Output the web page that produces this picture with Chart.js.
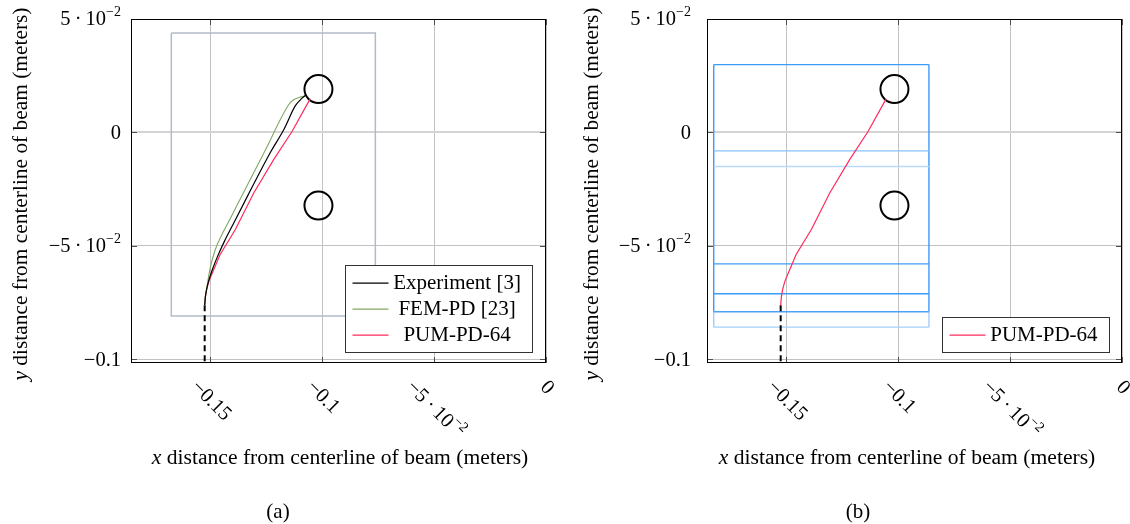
<!DOCTYPE html>
<html><head><meta charset="utf-8">
<script src="https://cdn.jsdelivr.net/npm/chart.js@4/dist/chart.umd.min.js"></script>
<style>
html,body{margin:0;padding:0;background:#fff;overflow:hidden;}
#wrap{position:relative;width:1130px;height:524px;overflow:hidden;background:#fff;}
canvas{position:absolute;top:0;}
</style></head><body>
<div id="wrap">
<canvas id="ca" width="565" height="524" style="left:0"></canvas>
<canvas id="cb" width="565" height="524" style="left:565px"></canvas>
</div>
<script>
// ---------- data ----------
const xTickValues=[-0.15,-0.1,-0.05,0];
const yTickValues=[-0.1,-0.05,0,0.05];
const xTickLabels=['\u22120.15','\u22120.1','\u22125\u2009\u00b7\u200910^\u22122','0'];
const yTickLabels=['\u22120.1','\u22125\u2009\u00b7\u200910^\u22122','0','5\u2009\u00b7\u200910^\u22122'];
const xMin=-0.1853, xMax=0, yMin=-0.1016, yMax=0.05;

const expX=[-0.1524,-0.1521,-0.1515,-0.1505,-0.1490,-0.1466,-0.1436,-0.1400,-0.1330,-0.1229,-0.1171,-0.1119,-0.1089,-0.1074];
const expY=[-0.0762,-0.0725,-0.0690,-0.0650,-0.0605,-0.0545,-0.0480,-0.0410,-0.0275,-0.0085,0.0012,0.0118,0.0151,0.0164];
const femX=[-0.1524,-0.1521,-0.1515,-0.1509,-0.1500,-0.1478,-0.1447,-0.1410,-0.1343,-0.1254,-0.1149,-0.1127,-0.1100,-0.1075];
const femY=[-0.0762,-0.0725,-0.0690,-0.0650,-0.0600,-0.0520,-0.0450,-0.0380,-0.0250,-0.0080,0.0122,0.0144,0.0155,0.0161];
const pumX=[-0.1524,-0.1521,-0.1515,-0.1505,-0.1488,-0.1455,-0.1387,-0.1305,-0.1216,-0.1134,-0.1060,-0.1052];
const pumY=[-0.0762,-0.0725,-0.0690,-0.0655,-0.0615,-0.0538,-0.0428,-0.0267,-0.0120,0.0004,0.0136,0.0148];
const notchX=[-0.1524,-0.1524];
const notchY=[-0.0762,-0.1016];
const holeX=[-0.1016,-0.1016];
const holeY=[0.0191,-0.0322];
const boxX=[-0.1673,-0.0762,-0.0762,-0.1673,-0.1673];
const boxY=[0.0438,0.0438,-0.0809,-0.0809,0.0438];
const patchX=[-0.1823,-0.0862];
const patchLineY=[0.0299,-0.0081,-0.0150,-0.0579,-0.0711,-0.0790,-0.0858];
const patchEdgeY=[0.0299,-0.0790,-0.0858];
const legendA=['Experiment [3]','FEM-PD [23]','PUM-PD-64'];
const legendB=['PUM-PD-64'];

// ---------- styles ----------
const FONT="'Liberation Serif','Times New Roman',serif";
const C_EXP='#000000', C_FEM='#7fa862', C_PUM='#ff2a5c', C_BOX='#b2bcc7';
const patchLineColors=['#3d9cf6','#86c0f7','#b7daf9','#3d9cf6','#3d9cf6','#4aa2f6','#a3cff8'];
const patchEdgeColors=['#3d9cf6','#a3cff8'];

const pts=(xs,ys)=>xs.map((x,i)=>({x:x,y:ys[i]}));

function parts(l){const i=l.indexOf('^');return i<0?[[l,false]]:[[l.slice(0,i),false],[l.slice(i+1),true]];}
function fnt(size,sup){return (sup?Math.round(size*0.7):size)+'px '+FONT;}
function measure(ctx,l,size){let w=0;parts(l).forEach(([t,s])=>{ctx.font=fnt(size,s);w+=ctx.measureText(t).width;});return w;}
function drawLbl(ctx,l,x,y,size){
  let cx=x;ctx.textBaseline='middle';ctx.textAlign='left';ctx.fillStyle='#000';
  parts(l).forEach(([t,s])=>{ctx.font=fnt(size,s);ctx.fillText(t,cx,s?y-size*0.36:y);cx+=ctx.measureText(t).width;});
}
function drawTitle(ctx,it,rest,cx,cy,rot,size){
  ctx.save();ctx.translate(cx,cy);ctx.rotate(rot);
  ctx.font='italic '+size+'px '+FONT;const w1=ctx.measureText(it).width;
  ctx.font=size+'px '+FONT;const w2=ctx.measureText(rest).width;
  const x0=-(w1+w2)/2;ctx.textBaseline='middle';ctx.textAlign='left';ctx.fillStyle='#000';
  ctx.font='italic '+size+'px '+FONT;ctx.fillText(it,x0,0);
  ctx.font=size+'px '+FONT;ctx.fillText(rest,x0+w1,0);
  ctx.restore();
}

function decor(cfg){
  return {id:'decor',afterDraw(chart){
    const ctx=chart.ctx,a=chart.chartArea,xs=chart.scales.x,ys=chart.scales.y;
    ctx.save();
    // tick marks
    ctx.strokeStyle='#505050';ctx.lineWidth=1;ctx.beginPath();
    xTickValues.forEach(v=>{const p=Math.round(xs.getPixelForValue(v))+0.5;
      ctx.moveTo(p,a.bottom);ctx.lineTo(p,a.bottom-6);ctx.moveTo(p,a.top);ctx.lineTo(p,a.top+6);});
    yTickValues.forEach(v=>{const p=Math.round(ys.getPixelForValue(v))+0.5;
      ctx.moveTo(a.left,p);ctx.lineTo(a.left+6,p);ctx.moveTo(a.right,p);ctx.lineTo(a.right-6,p);});
    ctx.stroke();
    // frame
    ctx.strokeStyle='#000';ctx.lineWidth=1;
    ctx.strokeRect(a.left+0.5,a.top+0.5,a.right-a.left-1,a.bottom-a.top-1);
    // y tick labels
    const TS=20.5;
    yTickValues.forEach((v,i)=>{const w=measure(ctx,yTickLabels[i],TS);
      drawLbl(ctx,yTickLabels[i],a.left-cfg.yGap-w,ys.getPixelForValue(v)+1,TS);});
    // x tick labels rotated
    xTickValues.forEach((v,i)=>{const l=xTickLabels[i];const w=measure(ctx,l,TS);
      const s=(w+12)/(2*Math.SQRT2);
      ctx.save();ctx.translate(xs.getPixelForValue(v)+1,a.bottom+17+s);ctx.rotate(Math.PI/4);
      drawLbl(ctx,l,-w/2,0,TS);ctx.restore();});
    // titles
    drawTitle(ctx,'x',' distance from centerline of beam (meters)',cfg.xTitleX,458,0,21.6);
    drawTitle(ctx,'y',' distance from centerline of beam (meters)',cfg.yTitleX,194,-Math.PI/2,21.4);
    // caption
    ctx.font='21px '+FONT;ctx.textAlign='center';ctx.textBaseline='middle';ctx.fillStyle='#000';
    ctx.fillText(cfg.caption,cfg.capX,512);
    // legend
    const items=cfg.legend;ctx.font='21px '+FONT;
    let maxW=0;items.forEach(l=>{maxW=Math.max(maxW,ctx.measureText(l).width);});
    const bw=47.7+maxW+12,bh=items.length*26+9.3;
    const bx=Math.round(a.right-13.4-bw)+0.5,by=Math.round(a.bottom-10.3-bh)+0.5;
    ctx.fillStyle='#fff';ctx.fillRect(bx,by,bw,bh);
    ctx.strokeStyle='#333';ctx.lineWidth=1;ctx.strokeRect(bx,by,Math.round(bw),Math.round(bh));
    items.forEach((l,i)=>{
      const ds=chart.data.datasets.find(d=>d.label===l);
      const yy=by+4.65+13+i*26;
      ctx.strokeStyle=ds.borderColor;ctx.lineWidth=1.2;ctx.beginPath();
      ctx.moveTo(bx+7,yy);ctx.lineTo(bx+43,yy);ctx.stroke();
      ctx.fillStyle='#000';ctx.textAlign='center';ctx.textBaseline='middle';
      ctx.fillText(l,bx+47.7+maxW/2,yy);
    });
    ctx.restore();
  }};
}

function lineDs(label,xs,ys,color,w,extra){
  return Object.assign({type:'line',label:label,data:pts(xs,ys),borderColor:color,borderWidth:w,
    pointRadius:0,fill:false,tension:0,showLine:true},extra||{});
}
const smooth={cubicInterpolationMode:'monotone'};

function makeChart(id,datasets,cfg){
  return new Chart(document.getElementById(id),{
    type:'scatter',
    data:{datasets:datasets},
    options:{
      responsive:false,animation:false,devicePixelRatio:1,
      layout:{padding:cfg.padding,autoPadding:false},
      plugins:{legend:{display:false},tooltip:{enabled:false}},
      events:[],
      scales:{
        x:{type:'linear',min:xMin,max:xMax,
          afterBuildTicks:s=>{s.ticks=xTickValues.map(v=>({value:v}));},
          ticks:{display:false},border:{display:false},
          grid:{drawTicks:false,color:'#c2c2c2',lineWidth:1}},
        y:{type:'linear',min:yMin,max:yMax,
          afterBuildTicks:s=>{s.ticks=yTickValues.map(v=>({value:v}));},
          ticks:{display:false},border:{display:false},
          grid:{drawTicks:false,color:c=>(c.tick&&c.tick.value===0)?'#d4d4d4':'#c2c2c2',
                lineWidth:c=>(c.tick&&c.tick.value===0)?2:1}}
      }
    },
    plugins:[decor(cfg)]
  });
}

const holeDs=()=>({type:'scatter',label:'holes',data:pts(holeX,holeY),pointRadius:14,pointHoverRadius:14,
  pointBorderWidth:2,borderColor:'#000',pointBorderColor:'#000',pointBackgroundColor:'rgba(0,0,0,0)',showLine:false});
const notchDs=()=>lineDs('notch',notchX,notchY,'#000',2,{borderDash:[6,4]});

// chart (a)
makeChart('ca',[
  lineDs(legendA[0],expX,expY,C_EXP,1.2,smooth),
  lineDs(legendA[1],femX,femY,C_FEM,1.1,smooth),
  lineDs(legendA[2],pumX,pumY,C_PUM,1.2),
  holeDs(),
  notchDs(),
  lineDs('box',boxX,boxY,C_BOX,1.5)
],{padding:{left:131,right:19,top:19,bottom:161},yGap:10,yTitleX:21,xTitleX:340,caption:'(a)',capX:278,legend:legendA});

// chart (b)
const bSets=[lineDs(legendB[0],pumX,pumY,C_PUM,1.2),holeDs(),notchDs()];
patchLineY.forEach((y,i)=>bSets.push(lineDs('p'+i,patchX,[y,y],patchLineColors[i],1.4)));
for(let k=0;k<patchEdgeY.length-1;k++){
  patchX.forEach((x,j)=>bSets.push(lineDs('e'+k+'_'+j,[x,x],[patchEdgeY[k],patchEdgeY[k+1]],patchEdgeColors[k],1.4)));
}
makeChart('cb',bSets,{padding:{left:142,right:8,top:19,bottom:161},yGap:16,yTitleX:27,xTitleX:342,caption:'(b)',capX:293,legend:legendB});
</script>
</body></html>
